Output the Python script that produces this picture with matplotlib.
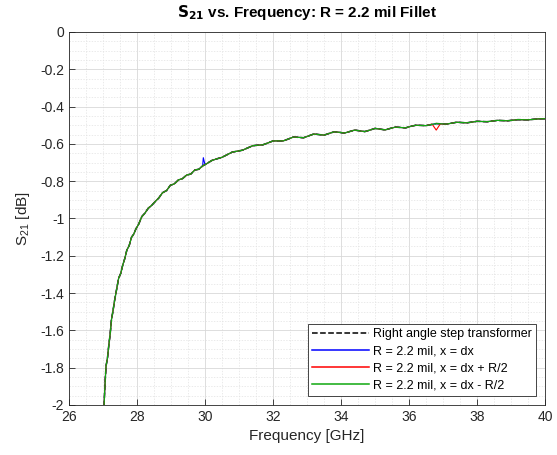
import matplotlib
matplotlib.use('Agg')
import matplotlib.pyplot as plt
from matplotlib.ticker import MultipleLocator, FuncFormatter

plt.rcParams['font.family'] = ['Liberation Sans', 'DejaVu Sans']
plt.rcParams['mathtext.default'] = 'regular'

# Frequency [GHz] and S21 [dB]
freq = [27.02, 27.05, 27.07, 27.09, 27.13, 27.17, 27.21, 27.25, 27.29, 27.34,
        27.40, 27.46, 27.52, 27.58, 27.64, 27.70, 27.77, 27.84, 27.90, 27.97,
        28.05, 28.14, 28.23, 28.33, 28.43, 28.53, 28.64, 28.75, 28.87, 28.98,
        29.10, 29.22, 29.34, 29.46, 29.58, 29.70, 29.82, 29.93, 30.05, 30.20,
        30.35, 30.50, 30.65, 30.80, 30.95, 31.10, 31.25, 31.40, 31.55, 31.70,
        31.85, 32.00, 32.15, 32.30, 32.45, 32.60, 32.75, 32.90, 33.05, 33.20,
        33.35, 33.50, 33.65, 33.80, 33.95, 34.10, 34.25, 34.40, 34.55, 34.70,
        34.85, 35.00, 35.15, 35.30, 35.45, 35.60, 35.75, 35.90, 36.05, 36.20,
        36.50, 36.80, 37.10, 37.40, 37.70, 38.00, 38.30, 38.60, 38.90, 39.20,
        39.50, 39.80, 40.0]
s21_step = [-2.05, -1.92, -1.85, -1.79, -1.75, -1.68, -1.62, -1.54, -1.50, -1.44,
            -1.38, -1.32, -1.295, -1.25, -1.215, -1.17, -1.145, -1.10, -1.085, -1.055,
            -1.030, -0.990, -0.972, -0.945, -0.930, -0.910, -0.890, -0.862, -0.850, -0.822,
            -0.814, -0.793, -0.786, -0.767, -0.762, -0.740, -0.736, -0.718, -0.706, -0.689,
            -0.680, -0.672, -0.658, -0.644, -0.639, -0.634, -0.622, -0.610, -0.607, -0.605,
            -0.595, -0.584, -0.584, -0.584, -0.574, -0.563, -0.565, -0.567, -0.557, -0.547,
            -0.550, -0.553, -0.544, -0.535, -0.538, -0.542, -0.534, -0.526, -0.530, -0.534,
            -0.526, -0.517, -0.521, -0.525, -0.517, -0.510, -0.512, -0.514, -0.506, -0.500,
            -0.502, -0.491, -0.494, -0.484, -0.487, -0.479, -0.481, -0.474, -0.476, -0.470,
            -0.471, -0.466, -0.465]

# local deviations of the fillet variants from the step curve
blue_extra = {29.88: -0.724, 29.95: -0.674, 30.0: -0.712}
red_extra = {36.68: -0.494, 36.80: -0.526, 36.92: -0.493}
green_extra = {}


def merged(extra):
    pts = dict(zip(freq, s21_step))
    pts.update(extra)
    keys = sorted(pts)
    return keys, [pts[k] for k in keys]


fig = plt.figure(figsize=(5.57, 4.55), dpi=100)
ax = fig.add_axes([0.1239, 0.1099, 0.8546, 0.8198])

ax.plot(freq, s21_step, 'k--', lw=1.1, label='Right angle step transformer')
f, s = merged(blue_extra)
ax.plot(f, s, color='#0000ff', lw=0.8, label='R = 2.2 mil, x = dx')
f, s = merged(red_extra)
ax.plot(f, s, color='#ff0000', lw=0.8, label='R = 2.2 mil, x = dx + R/2')
f, s = merged(green_extra)
ax.plot(f, s, color='#10a810', lw=0.9, label='R = 2.2 mil, x = dx - R/2')

ax.set_xlim(26, 40)
ax.set_ylim(-2, 0)
ax.xaxis.set_major_locator(MultipleLocator(2))
ax.xaxis.set_minor_locator(MultipleLocator(0.5))
ax.yaxis.set_major_locator(MultipleLocator(0.2))
ax.yaxis.set_minor_locator(MultipleLocator(0.05))
ax.yaxis.set_major_formatter(FuncFormatter(lambda v, p: f'{v:g}' if abs(v) > 1e-9 else '0'))

ax.grid(which='major', color='#d8d8d8', lw=0.6, ls='-')
ax.grid(which='minor', color='#e2e2e2', lw=0.5, ls=(0, (2, 2)))
ax.set_axisbelow(True)
ax.tick_params(which='both', direction='in', top=False, right=False,
               colors='#262626', labelsize=10)
ax.tick_params(which='minor', length=0)
ax.tick_params(which='major', length=4, width=0.6)
for sp in ax.spines.values():
    sp.set_color('#262626')
    sp.set_linewidth(0.6)

ax.set_title(r'$\mathbf{S_{21}}$ vs. Frequency: R = 2.2 mil Fillet',
             fontsize=11, fontweight='bold', pad=11)
ax.set_xlabel('Frequency [GHz]', fontsize=11, color='#262626')
ax.set_ylabel(r'S$_{21}$ [dB]', fontsize=11, color='#262626', labelpad=6)

leg = ax.legend(loc='lower right', fontsize=9, handlelength=4.6,
                fancybox=False, framealpha=1, edgecolor='#262626',
                borderpad=0.3, labelspacing=0.42, handletextpad=0.3,
                borderaxespad=0.75)
leg.get_frame().set_linewidth(0.6)
for ln in leg.get_lines()[1:]:
    ln.set_linewidth(1.1)

fig.savefig('out.png', dpi=100)
